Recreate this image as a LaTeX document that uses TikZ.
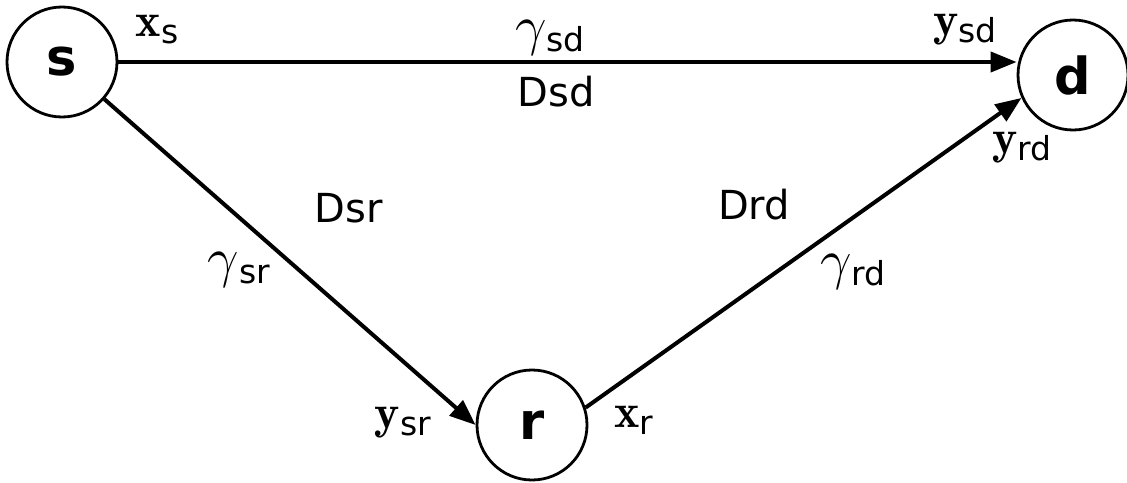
\RequirePackage{fix-cm}
\documentclass[tikz,border=0pt]{standalone}
\usepackage{amsmath}
\usepackage{fontspec}
\setsansfont{DejaVu Sans}
\usetikzlibrary{arrows.meta}
\newcommand\mylab[3]{{\fontsize{#1}{#1}\selectfont$#2$}\raisebox{-3.5pt}{\fontsize{16.5}{19}\selectfont\sffamily #3}}
\begin{document}
\begin{tikzpicture}[x=0.5pt,y=-0.5pt,
  vertex/.style={circle,draw,line width=1.4pt,minimum size=55pt,inner sep=0pt,
    font=\fontsize{25.5}{30}\selectfont\sffamily\bfseries},
  edge/.style={line width=2pt,-{Triangle[length=13pt,width=10pt]}},
  lab/.style={inner sep=0pt,font=\fontsize{20}{24}\selectfont\sffamily}]
\useasboundingbox (0,0) rectangle (1127,482);
\node[vertex] (s) at (62,62) {s};
\node[vertex] (d) at (1073,75) {d};
\node[vertex] (r) at (532,425) {r};
\draw[edge] (s.east) -- (s.east -| d.west);
\draw[edge] (s) -- (r.west);
\draw[edge] (r.18) -- (d.204);
\node[lab] (xs) at (157,30) {\mylab{24}{\mathbf{x}}{s}};
\node[lab] (gsd) at (550,38) {\mylab{28}{\gamma}{sd}};
\node[lab] (Dsd) at (556,92) {Dsd};
\node[lab] (ysd) at (965,30) {\mylab{24}{\mathbf{y}}{sd}};
\node[lab] (yrd) at (1022,148) {\mylab{24}{\mathbf{y}}{rd}};
\node[lab] (Dsr) at (349,208) {Dsr};
\node[lab] (gsr) at (239,270) {\mylab{28}{\gamma}{sr}};
\node[lab] (Drd) at (754,205) {Drd};
\node[lab] (grd) at (853,272) {\mylab{28}{\gamma}{rd}};
\node[lab] (ysr) at (403,423) {\mylab{24}{\mathbf{y}}{sr}};
\node[lab] (xr) at (634,420) {\mylab{24}{\mathbf{x}}{r}};
\end{tikzpicture}
\end{document}
